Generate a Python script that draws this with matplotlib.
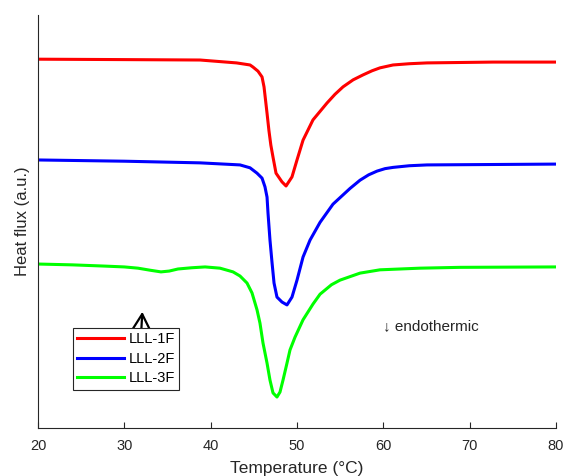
"""DSC heating curves for the LLL-xF samples (endotherm pointing down)."""

import matplotlib
matplotlib.use("Agg")
import matplotlib.pyplot as plt

plt.rcParams["font.family"] = ["Liberation Sans", "DejaVu Sans"]

AX_GREY = "#262626"

# LLL-1F
t_1f = [20.0, 30.0, 38.77, 43.0, 44.56, 44.90, 45.48, 45.95, 46.18, 46.35,
        46.53, 46.75, 46.97, 47.22, 47.57, 48.26, 48.73, 49.42, 50.00, 50.70,
        51.85, 53.48, 54.40, 55.33, 56.50, 57.65, 58.70, 59.61, 61.12, 63.0,
        65.06, 72.70, 80.0]
hf_1f = [8.93, 8.92, 8.91, 8.84, 8.79, 8.74, 8.64, 8.50, 8.26, 7.95,
         7.62, 7.20, 6.85, 6.56, 6.17, 5.96, 5.86, 6.08, 6.49, 6.97,
         7.46, 7.87, 8.08, 8.26, 8.43, 8.55, 8.65, 8.72, 8.79, 8.82,
         8.84, 8.86, 8.86]

# LLL-2F
t_2f = [20.0, 30.0, 38.77, 43.40, 44.56, 45.37, 45.95, 46.29, 46.53, 46.64,
        46.87, 47.11, 47.34, 47.68, 48.26, 48.84, 49.42, 50.00, 50.70, 51.51,
        52.67, 54.17, 56.14, 57.30, 58.30, 59.27, 60.20, 61.12, 63.0, 65.06,
        72.70, 80.0]
hf_2f = [6.49, 6.46, 6.42, 6.37, 6.30, 6.17, 6.05, 5.84, 5.59, 5.21,
         4.55, 4.00, 3.51, 3.17, 3.05, 2.98, 3.17, 3.58, 4.14, 4.55,
         4.98, 5.42, 5.80, 6.00, 6.13, 6.22, 6.28, 6.31, 6.35, 6.37,
         6.38, 6.39]

# LLL-3F
t_3f = [20.0, 24.0, 27.76, 30.0, 31.58, 33.0, 34.24, 35.2, 36.21, 37.8,
        39.35, 41.08, 42.59, 43.40, 44.21, 44.79, 45.37, 45.71, 46.06, 46.53,
        46.87, 47.22, 47.68, 48.03, 48.38, 48.84, 49.19, 49.77, 50.70, 51.85,
        52.67, 54.00, 54.98, 57.30, 59.61, 61.93, 64.25, 68.88, 80.0]
hf_3f = [3.97, 3.95, 3.92, 3.90, 3.87, 3.82, 3.78, 3.80, 3.85, 3.88,
         3.90, 3.87, 3.78, 3.68, 3.51, 3.27, 2.86, 2.54, 2.06, 1.57,
         1.16, 0.85, 0.75, 0.87, 1.16, 1.57, 1.89, 2.20, 2.62, 3.00,
         3.24, 3.47, 3.58, 3.75, 3.83, 3.85, 3.87, 3.89, 3.90]

x_ticks = [20, 30, 40, 50, 60, 70, 80]

fig = plt.figure(figsize=(5.66, 4.76), dpi=100)
ax = fig.add_axes([38 / 566, 48 / 476, 518 / 566, 413 / 476])

ax.plot(t_1f, hf_1f, "-", color="#ff0000", lw=2.2, label="LLL-1F")
ax.plot(t_2f, hf_2f, "-", color="#0000ff", lw=2.2, label="LLL-2F")
ax.plot(t_3f, hf_3f, "-", color="#00ff00", lw=2.2, label="LLL-3F")

ax.set_xlim(20, 80)
ax.set_ylim(0, 10)
ax.set_xticks(x_ticks)
ax.set_yticks([])
ax.tick_params(axis="x", direction="in", length=4, width=0.8,
               colors=AX_GREY, labelsize=10.5, pad=8)
for side in ("top", "right"):
    ax.spines[side].set_visible(False)
for side in ("left", "bottom"):
    ax.spines[side].set_color(AX_GREY)
    ax.spines[side].set_linewidth(0.8)

ax.set_xlabel("Temperature (°C)", fontsize=12.5, color=AX_GREY, labelpad=6)
ax.set_ylabel("Heat flux (a.u.)", fontsize=12, color=AX_GREY, labelpad=6)

ax.text(60.0, 2.47, "↓ endothermic", fontsize=11, color=AX_GREY,
        va="center", ha="left")

ax.annotate("", xy=(32.1, 2.88), xytext=(31.95, 2.30),
            arrowprops=dict(arrowstyle="->,head_length=0.8,head_width=0.45",
                            color="k", lw=1.6, mutation_scale=20))

leg = ax.legend(loc="upper left", bbox_to_anchor=(35 / 518, 100 / 413),
                borderaxespad=0, fontsize=10.5, handlelength=3.2,
                handletextpad=0.3, labelspacing=0.38, borderpad=0.3,
                fancybox=False, framealpha=1, edgecolor=AX_GREY)
leg.get_frame().set_linewidth(0.8)
leg.set_zorder(5)

fig.savefig("out.png", dpi=100)
